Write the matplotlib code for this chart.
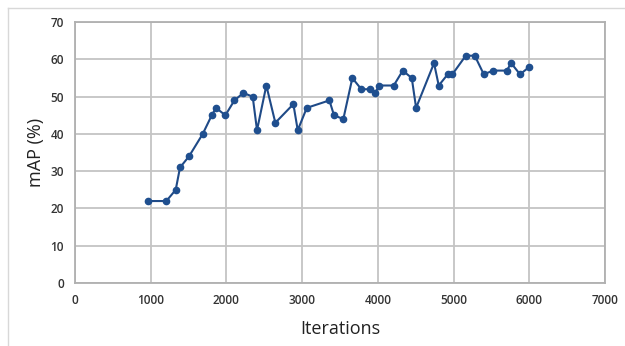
import matplotlib
matplotlib.use("Agg")
import matplotlib.pyplot as plt
from matplotlib.lines import Line2D

iterations = [960, 1206, 1330, 1387, 1506, 1687, 1806, 1863, 1986, 2105,
              2224, 2347, 2404, 2527, 2646, 2884, 2942, 3061, 3360, 3421,
              3544, 3663, 3782, 3901, 3963, 4020, 4210, 4329, 4448, 4505,
              4742, 4804, 4923, 4984, 5161, 5280, 5399, 5522, 5703, 5760,
              5878, 6001]
map_pct = [22, 22, 25, 31, 34, 40, 45, 47, 45, 49,
           51, 50, 41, 53, 43, 48, 41, 47, 49, 45,
           44, 55, 52, 52, 51, 53, 53, 57, 55, 47,
           59, 53, 56, 56, 61, 61, 56, 57, 57, 59,
           56, 58]
x_ticks = [0, 1000, 2000, 3000, 4000, 5000, 6000, 7000]
y_ticks = [0, 10, 20, 30, 40, 50, 60, 70]

plt.rcParams['font.family'] = ['Open Sans', 'DejaVu Sans']

fig = plt.figure(figsize=(6.25, 3.46), dpi=100)
ax = fig.add_axes([0.12, 0.182, 0.848, 0.754])

ax.plot(iterations, map_pct, color="#1f4a87", linewidth=1.5,
        marker="o", markersize=4.5, markerfacecolor="#1f4f8f",
        markeredgecolor="#1f4f8f", zorder=3)

ax.set_xlim(0, 7000)
ax.set_ylim(0, 70)
ax.set_xticks(x_ticks)
ax.set_yticks(y_ticks)
ax.grid(True, color="#c4c4c4", linewidth=1.3)
ax.set_axisbelow(True)
for s in ax.spines.values():
    s.set_color("#b0b0b0")
    s.set_linewidth(1.3)
ax.tick_params(length=0, pad=8, labelsize=8.5, labelcolor="#333333")
for lab in ax.get_xticklabels() + ax.get_yticklabels():
    lab.set_fontweight("semibold")

ax.set_xlabel("Iterations", fontsize=13, color="#222222", labelpad=9)
ax.set_ylabel("mAP (%)", fontsize=13, color="#222222", labelpad=4)

# faint outer frame of the original image
fig.add_artist(Line2D([0.013, 1.0], [0.977, 0.977], transform=fig.transFigure,
                      color="#d8d8d8", linewidth=1.0))
fig.add_artist(Line2D([0.013, 0.013], [0.0, 0.977], transform=fig.transFigure,
                      color="#d8d8d8", linewidth=1.0))

fig.savefig("out.png", dpi=100)
